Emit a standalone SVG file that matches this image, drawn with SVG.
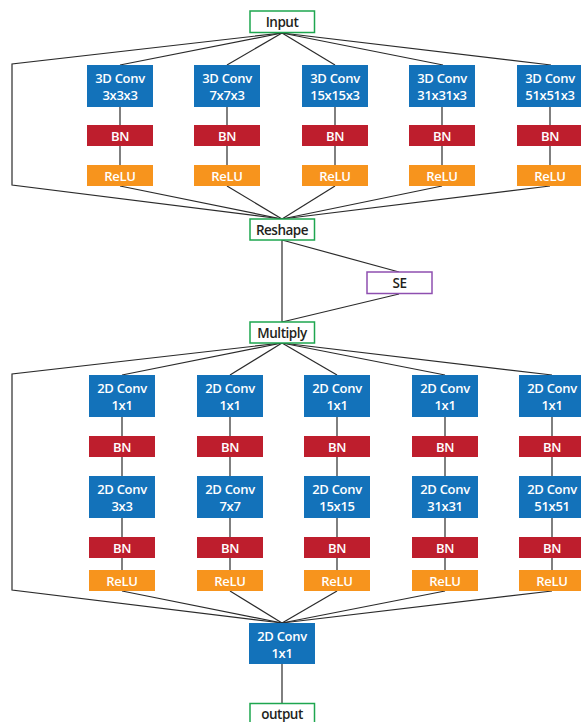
<svg xmlns="http://www.w3.org/2000/svg" width="581" height="722" viewBox="0 0 581 722">
<style>
.conv{fill:#1372BA}
.bn{fill:#BE1E2D}
.relu{fill:#F7941D}
.io{fill:#fff;stroke:#1EA64F;stroke-width:1.5}
.se{fill:#fff;stroke:#8E4FB0;stroke-width:1.5}
.w{font-family:"Open Sans",sans-serif;font-weight:600;font-size:13px;fill:#fff;text-anchor:middle;letter-spacing:-0.3px}
.d{font-family:"Open Sans",sans-serif;font-weight:600;font-size:13.5px;fill:#231F20;text-anchor:middle;letter-spacing:-0.5px}
#connectors path,#connectors line{stroke:#2b2b2b;stroke-width:1.2;fill:none}
</style>
<rect width="581" height="722" fill="#fff"/>
<g id="connectors">
<path d="M282,33 L12,64 L12,185 L282,219"/>
<line x1="282" y1="33" x2="120" y2="65"/>
<line x1="282" y1="33" x2="227" y2="65"/>
<line x1="282" y1="33" x2="335" y2="65"/>
<line x1="282" y1="33" x2="443" y2="65"/>
<line x1="282" y1="33" x2="551" y2="65"/>
<line x1="120" y1="107" x2="120" y2="165"/>
<line x1="227" y1="107" x2="227" y2="165"/>
<line x1="335" y1="107" x2="335" y2="165"/>
<line x1="442" y1="107" x2="442" y2="165"/>
<line x1="550" y1="107" x2="550" y2="165"/>
<line x1="120" y1="186" x2="282" y2="219"/>
<line x1="227" y1="186" x2="282" y2="219"/>
<line x1="335" y1="186" x2="282" y2="219"/>
<line x1="442" y1="186" x2="282" y2="219"/>
<line x1="550" y1="186" x2="282" y2="219"/>
<line x1="282" y1="240" x2="282" y2="322"/>
<line x1="282" y1="240" x2="399" y2="272"/>
<line x1="399" y1="294" x2="282" y2="322"/>
<path d="M282,343 L12,374 L12,590 L282,623"/>
<line x1="282" y1="343" x2="122" y2="375"/>
<line x1="282" y1="343" x2="230" y2="375"/>
<line x1="282" y1="343" x2="337" y2="375"/>
<line x1="282" y1="343" x2="445" y2="375"/>
<line x1="282" y1="343" x2="552" y2="375"/>
<line x1="122" y1="417" x2="122" y2="570"/>
<line x1="230" y1="417" x2="230" y2="570"/>
<line x1="337" y1="417" x2="337" y2="570"/>
<line x1="445" y1="417" x2="445" y2="570"/>
<line x1="552" y1="417" x2="552" y2="570"/>
<line x1="122" y1="591" x2="282" y2="623"/>
<line x1="230" y1="591" x2="282" y2="623"/>
<line x1="337" y1="591" x2="282" y2="623"/>
<line x1="445" y1="591" x2="282" y2="623"/>
<line x1="552" y1="591" x2="282" y2="623"/>
<line x1="282" y1="664" x2="282" y2="703"/>
</g>

<g id="input"><rect class="io" x="250" y="11" width="64.5" height="21.5"/><text class="d" x="282" y="27">Input</text></g>

<g id="conv3d-1"><rect class="conv" x="87" y="65" width="66" height="42"/><text class="w" x="120" y="82.5">3D Conv</text><text class="w" x="120" y="99.5">3x3x3</text></g>
<g id="conv3d-2"><rect class="conv" x="194" y="65" width="66" height="42"/><text class="w" x="227" y="82.5">3D Conv</text><text class="w" x="227" y="99.5">7x7x3</text></g>
<g id="conv3d-3"><rect class="conv" x="302" y="65" width="66" height="42"/><text class="w" x="335" y="82.5">3D Conv</text><text class="w" x="335" y="99.5">15x15x3</text></g>
<g id="conv3d-4"><rect class="conv" x="409" y="65" width="66" height="42"/><text class="w" x="442" y="82.5">3D Conv</text><text class="w" x="442" y="99.5">31x31x3</text></g>
<g id="conv3d-5"><rect class="conv" x="517" y="65" width="66" height="42"/><text class="w" x="550" y="82.5">3D Conv</text><text class="w" x="550" y="99.5">51x51x3</text></g>

<g id="bn3d-1"><rect class="bn" x="87" y="125" width="66" height="21"/><text class="w" x="120" y="141">BN</text></g>
<g id="bn3d-2"><rect class="bn" x="194" y="125" width="66" height="21"/><text class="w" x="227" y="141">BN</text></g>
<g id="bn3d-3"><rect class="bn" x="302" y="125" width="66" height="21"/><text class="w" x="335" y="141">BN</text></g>
<g id="bn3d-4"><rect class="bn" x="409" y="125" width="66" height="21"/><text class="w" x="442" y="141">BN</text></g>
<g id="bn3d-5"><rect class="bn" x="517" y="125" width="66" height="21"/><text class="w" x="550" y="141">BN</text></g>

<g id="relu3d-1"><rect class="relu" x="87" y="165" width="66" height="21"/><text class="w" x="120" y="181">ReLU</text></g>
<g id="relu3d-2"><rect class="relu" x="194" y="165" width="66" height="21"/><text class="w" x="227" y="181">ReLU</text></g>
<g id="relu3d-3"><rect class="relu" x="302" y="165" width="66" height="21"/><text class="w" x="335" y="181">ReLU</text></g>
<g id="relu3d-4"><rect class="relu" x="409" y="165" width="66" height="21"/><text class="w" x="442" y="181">ReLU</text></g>
<g id="relu3d-5"><rect class="relu" x="517" y="165" width="66" height="21"/><text class="w" x="550" y="181">ReLU</text></g>

<g id="reshape"><rect class="io" x="250" y="219" width="64.5" height="21"/><text class="d" x="282" y="234.5">Reshape</text></g>
<g id="se"><rect class="se" x="367" y="272" width="65" height="21.5"/><text class="d" x="399.5" y="288">SE</text></g>
<g id="multiply"><rect class="io" x="250" y="322" width="64.5" height="21"/><text class="d" x="282" y="337.5">Multiply</text></g>

<g id="conv2da-1"><rect class="conv" x="89" y="375" width="66" height="42"/><text class="w" x="122" y="392.5">2D Conv</text><text class="w" x="122" y="409.5">1x1</text></g>
<g id="conv2da-2"><rect class="conv" x="197" y="375" width="66" height="42"/><text class="w" x="230" y="392.5">2D Conv</text><text class="w" x="230" y="409.5">1x1</text></g>
<g id="conv2da-3"><rect class="conv" x="304" y="375" width="66" height="42"/><text class="w" x="337" y="392.5">2D Conv</text><text class="w" x="337" y="409.5">1x1</text></g>
<g id="conv2da-4"><rect class="conv" x="412" y="375" width="66" height="42"/><text class="w" x="445" y="392.5">2D Conv</text><text class="w" x="445" y="409.5">1x1</text></g>
<g id="conv2da-5"><rect class="conv" x="519" y="375" width="66" height="42"/><text class="w" x="552" y="392.5">2D Conv</text><text class="w" x="552" y="409.5">1x1</text></g>

<g id="bn2da-1"><rect class="bn" x="89" y="436" width="66" height="21"/><text class="w" x="122" y="452">BN</text></g>
<g id="bn2da-2"><rect class="bn" x="197" y="436" width="66" height="21"/><text class="w" x="230" y="452">BN</text></g>
<g id="bn2da-3"><rect class="bn" x="304" y="436" width="66" height="21"/><text class="w" x="337" y="452">BN</text></g>
<g id="bn2da-4"><rect class="bn" x="412" y="436" width="66" height="21"/><text class="w" x="445" y="452">BN</text></g>
<g id="bn2da-5"><rect class="bn" x="519" y="436" width="66" height="21"/><text class="w" x="552" y="452">BN</text></g>

<g id="conv2db-1"><rect class="conv" x="89" y="476" width="66" height="42"/><text class="w" x="122" y="493.5">2D Conv</text><text class="w" x="122" y="510.5">3x3</text></g>
<g id="conv2db-2"><rect class="conv" x="197" y="476" width="66" height="42"/><text class="w" x="230" y="493.5">2D Conv</text><text class="w" x="230" y="510.5">7x7</text></g>
<g id="conv2db-3"><rect class="conv" x="304" y="476" width="66" height="42"/><text class="w" x="337" y="493.5">2D Conv</text><text class="w" x="337" y="510.5">15x15</text></g>
<g id="conv2db-4"><rect class="conv" x="412" y="476" width="66" height="42"/><text class="w" x="445" y="493.5">2D Conv</text><text class="w" x="445" y="510.5">31x31</text></g>
<g id="conv2db-5"><rect class="conv" x="519" y="476" width="66" height="42"/><text class="w" x="552" y="493.5">2D Conv</text><text class="w" x="552" y="510.5">51x51</text></g>

<g id="bn2db-1"><rect class="bn" x="89" y="537" width="66" height="21"/><text class="w" x="122" y="553">BN</text></g>
<g id="bn2db-2"><rect class="bn" x="197" y="537" width="66" height="21"/><text class="w" x="230" y="553">BN</text></g>
<g id="bn2db-3"><rect class="bn" x="304" y="537" width="66" height="21"/><text class="w" x="337" y="553">BN</text></g>
<g id="bn2db-4"><rect class="bn" x="412" y="537" width="66" height="21"/><text class="w" x="445" y="553">BN</text></g>
<g id="bn2db-5"><rect class="bn" x="519" y="537" width="66" height="21"/><text class="w" x="552" y="553">BN</text></g>

<g id="relu2d-1"><rect class="relu" x="89" y="570" width="66" height="21"/><text class="w" x="122" y="586">ReLU</text></g>
<g id="relu2d-2"><rect class="relu" x="197" y="570" width="66" height="21"/><text class="w" x="230" y="586">ReLU</text></g>
<g id="relu2d-3"><rect class="relu" x="304" y="570" width="66" height="21"/><text class="w" x="337" y="586">ReLU</text></g>
<g id="relu2d-4"><rect class="relu" x="412" y="570" width="66" height="21"/><text class="w" x="445" y="586">ReLU</text></g>
<g id="relu2d-5"><rect class="relu" x="519" y="570" width="66" height="21"/><text class="w" x="552" y="586">ReLU</text></g>

<g id="conv-final"><rect class="conv" x="249" y="623" width="66" height="41"/><text class="w" x="282" y="640.5">2D Conv</text><text class="w" x="282" y="657.5">1x1</text></g>
<g id="output"><rect class="io" x="250" y="703.5" width="64.5" height="21"/><text class="d" x="282" y="719">output</text></g>
</svg>
